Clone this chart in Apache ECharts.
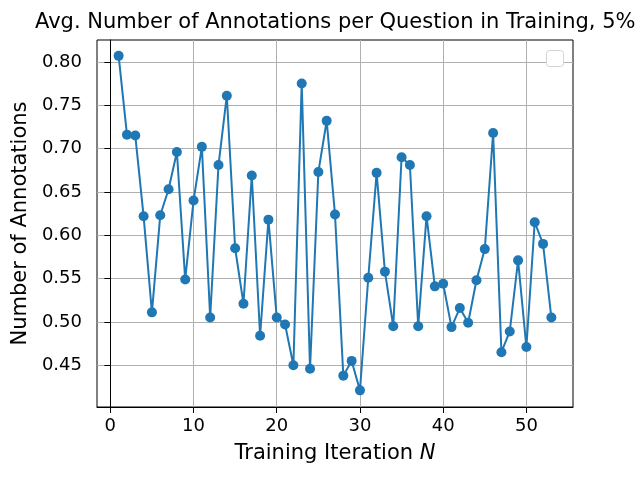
<!DOCTYPE html>
<html>
<head>
<meta charset="utf-8">
<script src="https://cdn.jsdelivr.net/npm/echarts@6/dist/echarts.min.js"></script>
<style>html,body{margin:0;padding:0;background:#fff}#c{width:640px;height:480px}</style>
</head>
<body>
<div id="c"></div>
<script>
const iterations = [];
for (let i = 1; i <= 53; i++) iterations.push(i);
const annotations = [
  0.807, 0.716, 0.715, 0.622, 0.511, 0.623, 0.653, 0.696, 0.549, 0.640,
  0.702, 0.505, 0.681, 0.761, 0.585, 0.521, 0.669, 0.484, 0.618, 0.505,
  0.497, 0.450, 0.775, 0.446, 0.673, 0.732, 0.624, 0.438, 0.455, 0.421,
  0.551, 0.672, 0.558, 0.495, 0.690, 0.681, 0.495, 0.622, 0.541, 0.544,
  0.494, 0.516, 0.499, 0.548, 0.584, 0.718, 0.465, 0.489, 0.571, 0.471,
  0.615, 0.590, 0.505
];
const xTicks = [0, 10, 20, 30, 40, 50];
const yTicks = [0.45, 0.50, 0.55, 0.60, 0.65, 0.70, 0.75, 0.80];
const titleText = 'Avg. Number of Annotations per Question in Training, 5%';
const xLabel = 'Training Iteration ';
const xLabelVar = 'N';
const yLabel = 'Number of Annotations';

const font = 'DejaVu Sans';
const chart = echarts.init(document.getElementById('c'), null, {renderer: 'canvas'});
const pts = iterations.map((x, i) => [x, annotations[i]]);
chart.setOption({
  animation: false,
  backgroundColor: '#ffffff',
  graphic: [{
    type: 'text', left: 35, top: 12, z: 100,
    style: {text: titleText, fontFamily: font, fontSize: 21, fill: '#000'}
  }, {
    type: 'rect', shape: {x: 546.5, y: 50.5, width: 17, height: 16, r: 3},
    style: {fill: '#fff', stroke: '#d4d4d4', lineWidth: 1}, z: 100
  }],
  grid: {left: 97, right: 67, top: 40, bottom: 73, show: true, borderColor: '#000', borderWidth: 1, backgroundColor: 'transparent'},
  xAxis: {
    type: 'value', min: -1.6, max: 55.6, minInterval: 10, maxInterval: 10,
    name: '{a|' + xLabel + '}{b|' + xLabelVar + '}', nameLocation: 'middle', nameGap: 36,
    nameTextStyle: {rich: {
      a: {fontFamily: font, fontSize: 21, color: '#000'},
      b: {fontFamily: font, fontSize: 21, color: '#000', fontStyle: 'italic'}
    }},
    axisLine: {show: true, lineStyle: {color: '#000', width: 1}},
    axisTick: {show: true, length: 6, customValues: xTicks, lineStyle: {color: '#000'}},
    axisLabel: {customValues: xTicks, fontFamily: font, fontSize: 18, color: '#000', margin: 10},
    splitLine: {show: true, lineStyle: {color: '#b0b0b0', width: 1}}
  },
  yAxis: {
    type: 'value', min: 0.4018, max: 0.8253, minInterval: 0.05, maxInterval: 0.05,
    name: yLabel, nameLocation: 'middle', nameGap: 64, nameRotate: 90,
    nameTextStyle: {fontFamily: font, fontSize: 21, color: '#000'},
    axisLine: {show: true, lineStyle: {color: '#000', width: 1}},
    axisTick: {show: true, length: 6, customValues: yTicks, lineStyle: {color: '#000'}},
    axisLabel: {customValues: yTicks, fontFamily: font, fontSize: 18, color: '#000', margin: 15,
      formatter: v => v.toFixed(2)},
    splitLine: {show: true, lineStyle: {color: '#b0b0b0', width: 1}}
  },
  series: [{
    type: 'line', data: pts, symbol: 'circle', symbolSize: 10,
    lineStyle: {color: '#1f77b4', width: 2},
    itemStyle: {color: '#1f77b4'}
  }]
});
</script>
</body>
</html>
